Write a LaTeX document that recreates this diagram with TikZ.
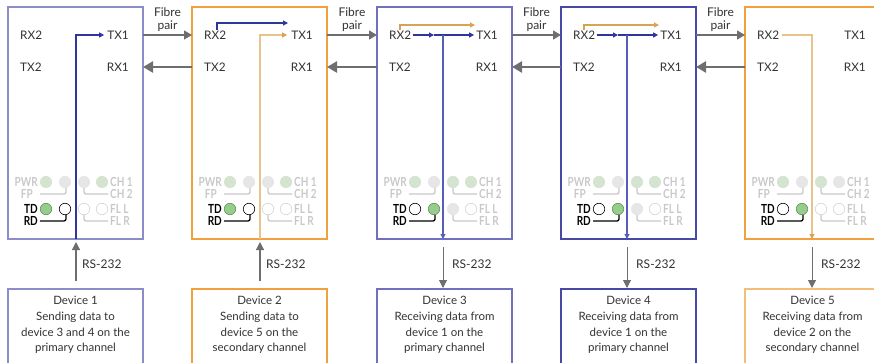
\documentclass[tikz,border=0pt]{standalone}
\usepackage{fontspec}
\setmainfont{Lato}
\newfontfamily\ledfont[FakeStretch=0.8]{Lato}
\usetikzlibrary{arrows.meta,calc}
\definecolor{blueA}{RGB}{140,140,200}
\definecolor{blueB}{RGB}{112,112,190}
\definecolor{blueC}{RGB}{72,72,165}
\definecolor{orangeA}{RGB}{240,160,60}
\definecolor{orangeB}{RGB}{244,190,120}
\definecolor{sigblue}{RGB}{45,55,155}
\definecolor{sigblueL}{RGB}{85,95,185}
\definecolor{sigtan}{RGB}{214,164,84}
\definecolor{sigtanL}{RGB}{232,196,140}
\definecolor{arrgray}{RGB}{110,110,112}
\definecolor{txt}{RGB}{50,50,50}
\definecolor{ledtext}{RGB}{200,200,200}
\definecolor{ledG}{RGB}{150,205,140}
\definecolor{ledGo}{RGB}{95,145,90}
\definecolor{faintG}{RGB}{212,228,208}
\definecolor{faintGr}{RGB}{230,230,230}
\definecolor{faintO}{RGB}{212,212,212}
\tikzset{
  mainbox/.style={draw, line width=1.2pt, minimum width=135pt, minimum height=232pt,
    anchor=north west, inner sep=0pt, outer sep=0pt},
  devbox/.style={draw, line width=1.2pt, minimum width=135pt, minimum height=100pt,
    anchor=north west, inner sep=0pt, outer sep=0pt},
  port/.style={inner sep=0pt, text=txt, font=\fontsize{11.8}{12}\selectfont},
  devtxt/.style={inner sep=0pt, text=txt, align=center, font=\fontsize{11.5}{15.6}\selectfont},
  fibtxt/.style={inner sep=0pt, text=txt, align=center, font=\fontsize{12}{13}\selectfont},
  rstxt/.style={inner sep=0pt, text=txt, anchor=west, font=\fontsize{12}{12}\selectfont},
  fibre/.style={draw=arrgray, line width=1.3pt, -{Triangle[length=8pt,width=9pt]}},
  fibreback/.style={draw=arrgray, line width=2.4pt, -{Triangle[length=10pt,width=11pt]}},
  sig/.style={line width=1.1pt, -{Triangle[length=5pt,width=5pt]}},
  sigtanarrow/.style={line width=1.1pt, -{Triangle[length=5pt,width=5pt,color=sigtan]}},
  rs/.style={draw=arrgray, line width=1.2pt, -{Triangle[length=8pt,width=8pt]}},
  led/.style={circle, minimum size=11.5pt, inner sep=0pt, line width=0.6pt},
  ledon/.style={led, fill=ledG, draw=ledGo},
  ledoff/.style={led, fill=white, draw=black},
  ledfg/.style={led, fill=faintG, draw=faintG},
  ledfy/.style={led, fill=faintGr, draw=faintGr},
  ledfo/.style={led, fill=white, draw=faintO},
  ledlbl/.style={inner sep=0pt, text=ledtext, font=\ledfont\bfseries\fontsize{12.5}{13}\selectfont},
  ledlblk/.style={inner sep=0pt, text=black, font=\ledfont\bfseries\fontsize{12.5}{13}\selectfont},
  bracket/.style={draw=ledtext, line width=1.3pt, rounded corners=2pt},
  bracketk/.style={draw=black, line width=1.3pt, rounded corners=2pt},
}
\begin{document}
\begin{tikzpicture}[x=1pt,y=-1pt]
\useasboundingbox (0,0) rectangle (874,363);
\clip (0,0) rectangle (874,363);

% main device boxes
\node[mainbox, draw=blueA]   (b1) at (8,7) {};
\node[mainbox, draw=orangeA] (b2) at (192,7) {};
\node[mainbox, draw=blueB]   (b3) at (377,7) {};
\node[mainbox, draw=blueC]   (b4) at (561,7) {};
\node[mainbox, draw=orangeA] (b5) at (745,7) {};

% bottom device boxes
\node[devbox, draw=blueA]   (d1) at (8,289) {};
\node[devbox, draw=orangeA] (d2) at (192,289) {};
\node[devbox, draw=blueB]   (d3) at (377,289) {};
\node[devbox, draw=blueC]   (d4) at (561,289) {};
\node[devbox, draw=orangeB] (d5) at (745,289) {};

\node[devtxt] (t1) at (75.5,325) {Device 1\\Sending data to\\device 3 and 4 on the\\primary channel};
\node[devtxt] (t2) at (259.5,325) {Device 2\\Sending data to\\device 5 on the\\secondary channel};
\node[devtxt] (t3) at (444.5,325) {Device 3\\Receiving data from\\device 1 on the\\primary channel};
\node[devtxt] (t4) at (628.5,325) {Device 4\\Receiving data from\\device 1 on the\\primary channel};
\node[devtxt] (t5) at (812.5,325) {Device 5\\Receiving data from\\device 2 on the\\secondary channel};

% port labels and LED panels
\foreach \i/\L/\ca/\cb/\fa/\ta/\tb in {1/8/ledfy/ledfg/ledfo/ledon/ledoff,
    2/192/ledfy/ledfg/ledfo/ledon/ledoff,
    3/377/ledfg/ledfg/ledfy/ledoff/ledon,
    4/561/ledfg/ledfg/ledfy/ledoff/ledon,
    5/745/ledfg/ledfy/ledfo/ledoff/ledon}{
  \node[port, anchor=west] (rx2-\i) at ({\L+12},35) {RX2};
  \node[port, anchor=east] (tx1-\i) at ({\L+121},35) {TX1};
  \node[port, anchor=west] (tx2-\i) at ({\L+12},67) {TX2};
  \node[port, anchor=east] (rx1-\i) at ({\L+121},67) {RX1};
  % LED labels
  \node[ledlbl, anchor=east] (pwr-\i) at ({\L+30},182) {PWR};
  \node[ledlbl, anchor=east] (fp-\i) at ({\L+25},194) {FP};
  \node[ledlblk, anchor=east] (td-\i) at ({\L+30},209) {TD};
  \node[ledlblk, anchor=east] (rd-\i) at ({\L+30},221) {RD};
  \node[ledlbl, anchor=west] (ch1-\i) at ({\L+102},182) {CH 1};
  \node[ledlbl, anchor=west] (ch2-\i) at ({\L+102},194) {CH 2};
  \node[ledlbl, anchor=west] (fll-\i) at ({\L+102},209) {FL L};
  \node[ledlbl, anchor=west] (flr-\i) at ({\L+102},221) {FL R};
  % LEDs
  \node[ledfg] (p1-\i) at ({\L+38},182) {};
  \node[ledfy] (p2-\i) at ({\L+57},182) {};
  \node[\ca]   (p3-\i) at ({\L+76},182) {};
  \node[\cb]   (p4-\i) at ({\L+94},182) {};
  \node[\ta]   (q1-\i) at ({\L+38},209) {};
  \node[\tb]   (q2-\i) at ({\L+57},209) {};
  \node[\fa]   (q3-\i) at ({\L+76},209) {};
  \node[ledfo] (q4-\i) at ({\L+94},209) {};
  % brackets
  \draw[bracket]  ({\L+32},194) -| ({\L+58},188);
  \draw[bracket]  ({\L+76},188) |- ({\L+100},194);
  \draw[bracketk] ({\L+32},221) -| ({\L+58},215);
  \draw[bracket]  ({\L+76},215) |- ({\L+100},221);
}

% fibre pairs
\foreach \i/\j/\x in {1/2/167.5,2/3/352,3/4/536.5,4/5/720.5}{
  \node[fibtxt] (fib-\i) at (\x,20) {Fibre\\pair};
  \draw[fibre] ([yshift=-28pt]b\i.north east) -- ([yshift=-28pt]b\j.north west);
  \draw[fibreback] ([yshift=-60pt]b\j.north west) -- ([yshift=-60pt]b\i.north east);
}

% box 1 : sends primary
\coordinate (s1) at (76,239);
\draw[sig, draw=sigblue] (s1) |- ([xshift=-3pt]tx1-1.west);

% box 2 : repeats primary, sends secondary
\coordinate (r2) at (217,30);
\coordinate (e2) at (288,23);
\draw[sig, draw=sigblue] (r2) |- (e2);
\coordinate (s2) at (260,239);
\draw[sigtanarrow, draw=sigtanL] (s2) |- ([xshift=-4pt]tx1-2.west);

% boxes 3 and 4 : receive primary, repeat both
\foreach \i/\L in {3/377,4/561}{
  \coordinate (r\i) at ({\L+23},30);
  \coordinate (e\i) at ({\L+98},25);
  \draw[sig, draw=sigtan] (r\i) |- (e\i);
  \coordinate (m\i) at ({\L+57},35);
  \coordinate (v\i) at ({\L+66},35);
  \coordinate (b\i-out) at ({\L+66},239);
  \draw[sig, draw=sigblue] ([xshift=2pt]rx2-\i.east) -- (m\i);
  \draw[sig, draw=sigblue] (m\i) -- ([xshift=-2pt]tx1-\i.west);
  \draw[sig, draw=sigblueL] (v\i) -- (b\i-out);
}

% box 5 : receives secondary
\coordinate (b5-out) at (812,239);
\draw[sigtanarrow, draw=sigtanL] ([xshift=3pt]rx2-5.east) -| (b5-out);

% RS-232 links
\draw[rs] (76,281) -- (76,242);
\node[rstxt] (rs1) at (82,264) {RS-232};
\draw[rs] (260,281) -- (260,242);
\node[rstxt] (rs2) at (266,264) {RS-232};
\draw[rs, line width=1pt] (443,247) -- (443,288);
\node[rstxt] (rs3) at (452,264) {RS-232};
\draw[rs, line width=1pt] (627,247) -- (627,288);
\node[rstxt] (rs4) at (636,264) {RS-232};
\draw[rs, line width=1pt] (812,247) -- (812,288);
\node[rstxt] (rs5) at (821,264) {RS-232};
\end{tikzpicture}
\end{document}
